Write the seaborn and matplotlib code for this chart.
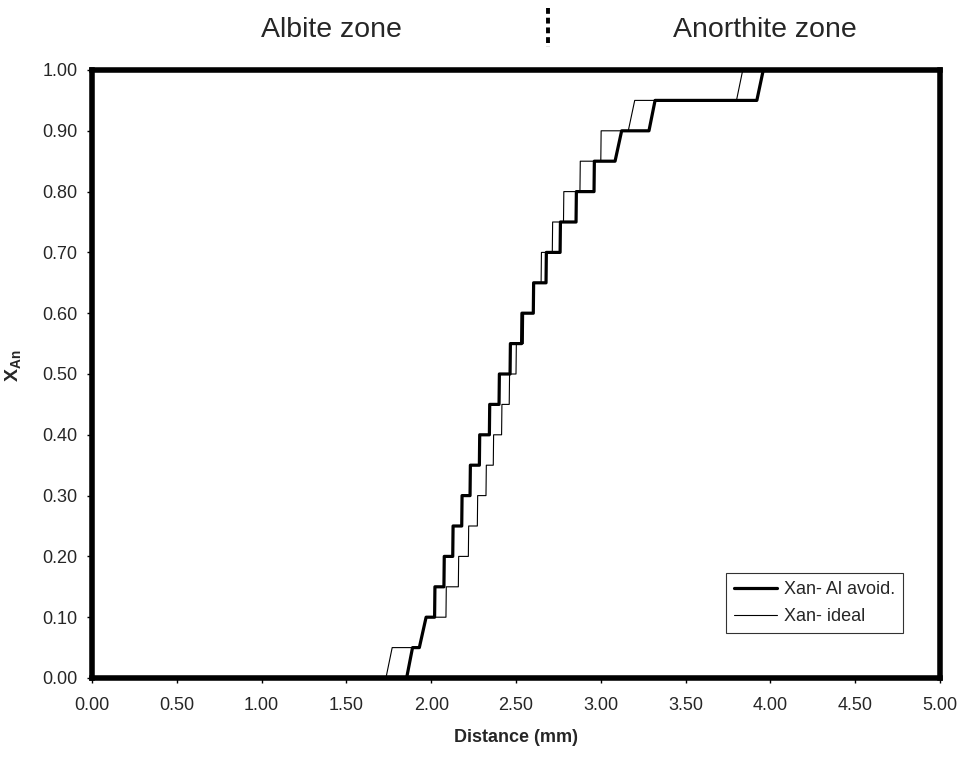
import matplotlib
matplotlib.use("Agg")
import matplotlib.pyplot as plt
import seaborn as sns
import pandas as pd
from matplotlib.lines import Line2D

# Data
x_al_avoid = [0.0, 1.855, 1.89, 1.93, 1.97, 2.02, 2.022, 2.075, 2.077, 2.127, 2.129, 2.18,
              2.182, 2.229, 2.231, 2.284, 2.286, 2.343, 2.345, 2.40, 2.402, 2.465, 2.467,
              2.533, 2.535, 2.602, 2.604, 2.677, 2.679, 2.76, 2.762, 2.854, 2.856, 2.96,
              2.962, 3.084, 3.123, 3.284, 3.32, 3.92, 3.958, 5.0]
y_al_avoid = [0.0, 0.0, 0.05, 0.05, 0.10, 0.10, 0.15, 0.15, 0.20, 0.20, 0.25, 0.25,
              0.30, 0.30, 0.35, 0.35, 0.40, 0.40, 0.45, 0.45, 0.50, 0.50, 0.55,
              0.55, 0.60, 0.60, 0.65, 0.65, 0.70, 0.70, 0.75, 0.75, 0.80, 0.80,
              0.85, 0.85, 0.90, 0.90, 0.95, 0.95, 1.0, 1.0]

x_ideal = [0.0, 1.733, 1.77, 1.93, 1.97, 2.087, 2.089, 2.16, 2.162, 2.219, 2.221, 2.272,
           2.274, 2.323, 2.325, 2.366, 2.368, 2.415, 2.417, 2.46, 2.462, 2.50, 2.502,
           2.543, 2.545, 2.60, 2.602, 2.648, 2.650, 2.714, 2.716, 2.78, 2.782, 2.877,
           2.879, 3.00, 3.002, 3.162, 3.20, 3.80, 3.837, 5.0]
y_ideal = [0.0, 0.0, 0.05, 0.05, 0.10, 0.10, 0.15, 0.15, 0.20, 0.20, 0.25, 0.25,
           0.30, 0.30, 0.35, 0.35, 0.40, 0.40, 0.45, 0.45, 0.50, 0.50, 0.55,
           0.55, 0.60, 0.60, 0.65, 0.65, 0.70, 0.70, 0.75, 0.75, 0.80, 0.80,
           0.85, 0.85, 0.90, 0.90, 0.95, 0.95, 1.0, 1.0]

series_names = ["Xan- Al avoid.", "Xan- ideal"]
x_ticks = [0.0, 0.5, 1.0, 1.5, 2.0, 2.5, 3.0, 3.5, 4.0, 4.5, 5.0]
y_ticks = [0.0, 0.1, 0.2, 0.3, 0.4, 0.5, 0.6, 0.7, 0.8, 0.9, 1.0]
zone_labels = ["Albite zone", "Anorthite zone"]

sns.set_theme(style="white")
plt.rcParams['font.family'] = ['Liberation Sans', 'DejaVu Sans']
plt.rcParams['mathtext.fontset'] = 'custom'
plt.rcParams['mathtext.bf'] = 'Liberation Sans:bold'
plt.rcParams['mathtext.rm'] = 'Liberation Sans'
plt.rcParams['lines.scale_dashes'] = False

W, H = 960, 757
fig = plt.figure(figsize=(W / 100, H / 100), dpi=100)
L, R, T, B = 92, 940, 70, 678
ax = fig.add_axes([L / W, 1 - B / H, (R - L) / W, (B - T) / H])

df_a = pd.DataFrame({"x": x_al_avoid, "y": y_al_avoid})
df_i = pd.DataFrame({"x": x_ideal, "y": y_ideal})
sns.lineplot(data=df_a, x="x", y="y", sort=False, estimator=None, ax=ax,
             color="black", linewidth=2.3, label=series_names[0])
sns.lineplot(data=df_i, x="x", y="y", sort=False, estimator=None, ax=ax,
             color="black", linewidth=0.8, label=series_names[1])

ax.set_xlim(0, 5)
ax.set_ylim(0, 1)
ax.set_xticks(x_ticks)
ax.set_yticks(y_ticks)
ax.set_xticklabels([f"{v:.2f}" for v in x_ticks], fontsize=13)
ax.set_yticklabels([f"{v:.2f}" for v in y_ticks], fontsize=13)
ax.tick_params(axis="both", direction="out", length=3.5, width=1, color="black",
               bottom=True, left=True)
ax.tick_params(axis="x", pad=10.5)
ax.tick_params(axis="y", pad=7)
for s in ax.spines.values():
    s.set_linewidth(4)
    s.set_color("black")
    s.set_zorder(5)

ax.set_xlabel("Distance (mm)", fontsize=13, fontweight="bold")
ax.xaxis.set_label_coords(0.5, -(729 - B) / (B - T))
ax.set_ylabel(r"$\mathbf{X}_{\mathbf{An}}$", fontsize=14)
ax.yaxis.set_label_coords(-(L - 24) / (R - L), (B - 366) / (B - T))

leg = ax.legend(loc="lower right", bbox_to_anchor=((903 - L) / (R - L), (B - 633) / (B - T)),
                frameon=True, fancybox=False, fontsize=13, handlelength=2.4,
                borderpad=0.45, labelspacing=0.55, handletextpad=0.35, borderaxespad=0)
leg.get_frame().set_edgecolor("black")
leg.get_frame().set_linewidth(0.8)

fig.text(331 / W, 1 - 30 / H, zone_labels[0], fontsize=20.5, ha="center", va="center")
fig.text(765 / W, 1 - 30 / H, zone_labels[1], fontsize=20.5, ha="center", va="center")
fig.add_artist(Line2D([548 / W, 548 / W], [1 - 8 / H, 1 - 47 / H], transform=fig.transFigure,
                      color="black", linewidth=2.8, dashes=[4.2, 2.8], solid_capstyle="butt",
                      dash_capstyle="butt"))

fig.savefig("out.png", dpi=100)
